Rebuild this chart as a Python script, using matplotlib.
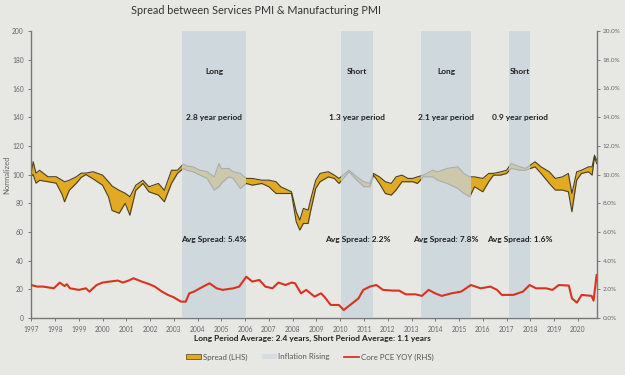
import matplotlib
matplotlib.use("Agg")
import matplotlib.pyplot as plt
from matplotlib.patches import Patch
from matplotlib.lines import Line2D

# spread between the two normalized PMI series (LHS)
spread_years = [
    1997.00, 1997.08, 1997.20, 1997.35, 1997.70, 1998.05, 1998.30, 1998.40, 1998.60, 1998.90,
    1999.10, 1999.30, 1999.60, 2000.00, 2000.25, 2000.40, 2000.70, 2000.95, 2001.15, 2001.40,
    2001.70, 2001.95, 2002.35, 2002.60, 2002.90, 2003.15, 2003.40, 2003.55, 2003.80, 2004.10,
    2004.40, 2004.70, 2004.90, 2005.00, 2005.30, 2005.50, 2005.80, 2006.05, 2006.30, 2006.70,
    2007.00, 2007.30, 2007.50, 2007.80, 2007.95, 2008.15, 2008.30, 2008.45, 2008.65, 2008.75,
    2008.97, 2009.15, 2009.50, 2009.75, 2009.95, 2010.37, 2010.70, 2011.00, 2011.25, 2011.40,
    2011.65, 2011.90, 2012.15, 2012.35, 2012.60, 2012.85, 2013.05, 2013.25, 2013.50, 2013.90,
    2014.10, 2014.50, 2014.95, 2015.20, 2015.45, 2015.65, 2016.00, 2016.25, 2016.45, 2016.75,
    2017.00, 2017.20, 2017.55, 2017.80, 2018.20, 2018.45, 2018.80, 2019.05, 2019.35, 2019.60,
    2019.75, 2019.95, 2020.15, 2020.45, 2020.60, 2020.70, 2020.79,
]
spread_upper = [
    101, 109, 101, 103, 98.5, 98.5, 96, 95, 96, 98.5,
    101, 101, 102, 99.6, 95, 92, 89, 87, 84.5, 92.6,
    96, 91.5, 93.8, 89, 103, 103, 107.3, 106, 105.4, 103,
    102, 98.4, 107.7, 104, 104.3, 102, 100.8, 97.3, 97.3, 96.1,
    96.1, 95, 91.5, 89.2, 88, 74.1, 68.2, 76.4, 75.2, 82.2,
    96, 100.8, 102, 99.6, 97.3, 103, 98.4, 95, 93.8, 100.8,
    98.4, 95, 93.8, 98.4, 99.6, 97.3, 97.3, 98.4, 99.6, 103,
    101.9, 104.3, 105.4, 100.8, 98.4, 98.4, 97.3, 100.8, 100.8, 101.9,
    103, 107.7, 105.4, 104.3, 108.9, 105.4, 101.9, 97.3, 98.4, 100.8,
    86.8, 101.9, 103, 105.4, 105.4, 113.5, 110.1,
]
spread_lower = [
    99, 100, 94, 96, 95, 94, 86, 81, 89, 94,
    98, 100, 97, 92.6, 84.5, 75, 73, 80, 71.7, 89,
    93.8, 88, 85.7, 81, 93.8, 100.8, 104.3, 103, 102, 99.6,
    97.3, 89.2, 91.5, 93.8, 98.4, 97.3, 90.3, 93.8, 92.6, 93.8,
    91.5, 86.8, 86.8, 86.8, 86.8, 67.1, 61.3, 65.9, 65.9, 74.1,
    90.3, 95, 98.4, 97.3, 93.8, 101.9, 96.1, 91.5, 91.5, 99.6,
    93.8, 86.8, 85.7, 89.2, 95, 95, 95, 93.8, 98.4, 98.4,
    96.1, 93.8, 90.3, 86.8, 84.5, 91.5, 88, 95, 99.6, 99.6,
    100.8, 104.3, 103, 103, 105.4, 100.8, 93.8, 89.2, 89.2, 88,
    74.1, 96.1, 100.8, 101.9, 99.6, 112.4, 107.7,
]

# core PCE year over year, percent (RHS)
pce_years = [
    1997.00, 1997.25, 1997.50, 1997.95, 1998.20, 1998.40, 1998.50, 1998.63, 1999.00, 1999.30,
    1999.45, 1999.75, 2000.00, 2000.30, 2000.65, 2000.85, 2001.10, 2001.30, 2001.65, 2001.95,
    2002.20, 2002.50, 2002.75, 2003.00, 2003.30, 2003.50, 2003.65, 2003.85, 2004.10, 2004.50,
    2004.80, 2005.05, 2005.50, 2005.75, 2006.05, 2006.30, 2006.60, 2006.85, 2007.15, 2007.40,
    2007.70, 2007.95, 2008.10, 2008.35, 2008.57, 2008.92, 2009.19, 2009.33, 2009.60, 2009.94,
    2010.15, 2010.42, 2010.77, 2010.97, 2011.25, 2011.52, 2011.80, 2012.21, 2012.48, 2012.76,
    2013.17, 2013.44, 2013.72, 2013.99, 2014.27, 2014.68, 2015.09, 2015.50, 2015.91, 2016.32,
    2016.60, 2016.80, 2017.28, 2017.69, 2017.97, 2018.24, 2018.66, 2018.93, 2019.20, 2019.62,
    2019.75, 2019.96, 2020.16, 2020.58, 2020.66, 2020.79,
]
pce_values = [
    2.30, 2.19, 2.19, 2.07, 2.47, 2.23, 2.35, 2.07, 1.96, 2.07,
    1.84, 2.30, 2.47, 2.54, 2.61, 2.47, 2.61, 2.77, 2.54, 2.37,
    2.19, 1.84, 1.61, 1.44, 1.14, 1.14, 1.72, 1.84, 2.07, 2.42,
    2.07, 1.96, 2.07, 2.19, 2.88, 2.54, 2.65, 2.19, 2.07, 2.47,
    2.30, 2.47, 2.42, 1.72, 1.96, 1.49, 1.72, 1.49, 0.91, 0.91,
    0.56, 0.91, 1.37, 1.96, 2.19, 2.30, 1.96, 1.91, 1.91, 1.65,
    1.65, 1.54, 1.96, 1.72, 1.54, 1.72, 1.84, 2.30, 2.07, 2.19,
    1.96, 1.61, 1.61, 1.84, 2.30, 2.07, 2.07, 1.96, 2.30, 2.26,
    1.37, 1.07, 1.61, 1.54, 1.21, 3.00,
]

# inflation rising periods
band_starts = [2003.34, 2010.05, 2013.40, 2017.10]
band_ends = [2006.05, 2011.40, 2015.50, 2018.00]
band_labels = ["Long", "Short", "Long", "Short"]
band_periods = ["2.8 year period", "1.3 year period", "2.1 year period", "0.9 year period"]
band_spreads = ["Avg Spread: 5.4%", "Avg Spread: 2.2%", "Avg Spread: 7.8%", "Avg Spread: 1.6%"]

year_ticks = list(range(1997, 2021))

BG = "#e7e7e3"
GOLD = "#e2aa22"
EDGE = "#4a4020"
BAND = "#c6d3dc"
RED = "#d9331f"

plt.rcParams["font.family"] = ["Lato", "DejaVu Sans"]

fig = plt.figure(figsize=(6.25, 3.75), dpi=100)
fig.patch.set_facecolor(BG)
ax = fig.add_axes([0.05, 0.152, 0.905, 0.765])
ax.set_facecolor(BG)

ax.fill_between(spread_years, spread_lower, spread_upper, color=GOLD, lw=0, zorder=2)
ax.plot(spread_years, spread_upper, color=EDGE, lw=0.8, zorder=2.5)
ax.plot(spread_years, spread_lower, color=EDGE, lw=0.8, zorder=2.5)

for s, e in zip(band_starts, band_ends):
    ax.axvspan(s, e, color=BAND, alpha=0.75, lw=0, zorder=3)

ax.set_xlim(1997, 2020.8)
ax.set_ylim(0, 200)
ax.set_yticks(range(0, 201, 20))
ax.set_xticks(year_ticks)
ax.set_xticklabels([str(y) for y in year_ticks])
ax.tick_params(labelsize=4.8, colors="#666666", length=2, width=0.6)
ax.set_ylabel("Normalized", fontsize=5.5, color="#666666", labelpad=1)
for side in ["top", "right"]:
    ax.spines[side].set_visible(False)
for side in ["left", "bottom"]:
    ax.spines[side].set_color("#777777")
    ax.spines[side].set_linewidth(1.0)

ax2 = ax.twinx()
ax2.plot(pce_years, pce_values, color=RED, lw=1.5, zorder=4)
ax2.set_ylim(0, 20)
ax2.set_yticks(range(0, 21, 2))
ax2.set_yticklabels([f"{v:.1f}%" for v in range(0, 21, 2)])
ax2.tick_params(labelsize=4.6, colors="#666666", length=2, width=0.6, pad=2)
for side in ["top", "left", "bottom"]:
    ax2.spines[side].set_visible(False)
ax2.spines["right"].set_color("#777777")
ax2.spines["right"].set_linewidth(1.0)

for s, e, lab, per, avg in zip(band_starts, band_ends, band_labels, band_periods, band_spreads):
    mid = (s + e) / 2
    ax.text(mid, 172, lab, ha="center", va="center", fontsize=6, fontweight="bold",
            color="#222222", zorder=5)
    ax.text(mid, 140, per, ha="center", va="center", fontsize=6, fontweight="bold",
            color="#222222", zorder=5)
    ax.text(mid, 55, avg, ha="center", va="center", fontsize=6, fontweight="bold",
            color="#222222", zorder=5)

fig.text(0.41, 0.972, "Spread between Services PMI & Manufacturing PMI", ha="center",
         va="center", fontsize=7.8, color="#333333")
fig.text(0.5, 0.098, "Long Period Average: 2.4 years, Short Period Average: 1.1 years",
         ha="center", va="center", fontsize=6, fontweight="bold", color="#222222")

handles = [
    Patch(facecolor=GOLD, edgecolor=EDGE, lw=0.5),
    Patch(facecolor="#d5dde2", edgecolor="none"),
    Line2D([0], [0], color=RED, lw=1.3),
]
labels = ["Spread (LHS)", "Inflation Rising", "Core PCE YOY (RHS)"]
fig.legend(handles, labels, loc="center", bbox_to_anchor=(0.496, 0.048), ncol=3,
           frameon=False, fontsize=5.7, labelcolor="#555555", handlelength=1.9,
           handleheight=0.6, columnspacing=1.8, handletextpad=0.2)

fig.savefig("out.png", dpi=100, facecolor=BG)
